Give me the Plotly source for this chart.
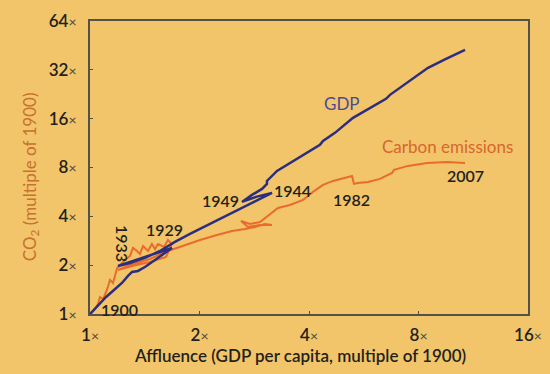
import plotly.graph_objects as go

# ---- data (multiples of 1900 values) ----
gdp_affluence = [1.000, 1.052, 1.107, 1.164, 1.224, 1.272, 1.305, 1.355, 1.416, 1.509, 1.608, 1.680,
                 1.557, 1.416, 1.288, 1.194, 1.288, 1.416, 1.557, 1.712, 1.883, 2.138, 2.427, 2.753,
                 3.165, 2.860, 2.617, 2.788, 2.971, 3.065, 3.065, 3.267, 3.779, 4.287, 4.371, 4.715,
                 5.285, 5.885, 6.512, 6.680, 7.485, 8.497, 9.521, 10.74]
gdp_multiple = [1.000, 1.136, 1.273, 1.406, 1.553, 1.716, 1.816, 1.842, 1.949, 2.154, 2.378, 2.553,
                2.412, 2.247, 2.093, 1.978, 2.063, 2.216, 2.447, 2.781, 3.115, 3.590, 4.139, 4.770,
                5.579, 5.271, 4.907, 5.422, 5.902, 6.338, 6.613, 7.622, 9.300, 11.03, 11.67, 13.08,
                16.18, 18.65, 21.20, 22.44, 26.98, 32.93, 37.41, 42.51]

carbon_affluence = [1.000, 1.032, 1.052, 1.065, 1.086, 1.113, 1.135, 1.157, 1.187, 1.232, 1.288, 1.313,
                    1.346, 1.372, 1.399, 1.444, 1.480, 1.509, 1.538, 1.598, 1.638, 1.680, 1.618, 1.462,
                    1.305, 1.194, 1.288, 1.462, 1.608, 1.734, 1.848, 2.007, 2.234, 2.457, 2.667, 2.842,
                    3.027, 3.165, 2.933, 2.719, 2.601, 2.753, 2.933, 3.085, 3.287, 3.546, 3.851, 4.102,
                    4.371, 4.656, 5.087, 5.252, 5.318, 5.453, 5.811, 6.268, 6.765, 6.849, 7.485, 8.445,
                    9.581, 10.74]
carbon_multiple = [1.000, 1.073, 1.153, 1.273, 1.237, 1.406, 1.621, 1.553, 1.922, 2.093, 2.279, 2.553,
                   2.447, 2.345, 2.627, 2.447, 2.703, 2.517, 2.703, 2.590, 2.860, 2.703, 2.247, 2.093,
                   1.978, 1.869, 2.006, 2.184, 2.412, 2.553, 2.703, 2.860, 3.071, 3.251, 3.345, 3.441,
                   3.590, 3.540, 3.540, 3.441, 3.747, 3.590, 3.693, 4.022, 4.506, 4.703, 5.049, 5.657,
                   6.246, 6.613, 6.999, 7.100, 6.338, 6.427, 6.520, 6.804, 7.408, 7.732, 8.184, 8.539,
                   8.664, 8.539]

x_ticks = [1, 2, 4, 8, 16]
y_ticks = [1, 2, 4, 8, 16, 32, 64]

BG = "#F2C56A"
BLUE = "#2C2E7E"
ORANGE = "#EA6B2B"
DARK = "#231F1A"

def tick_text(v):
    return f"{v}<span style='font-size:14px;font-weight:400;color:#4a4540'>\u00d7</span>"

fig = go.Figure()
fig.add_trace(go.Scatter(x=carbon_affluence, y=carbon_multiple, mode="lines",
                         line=dict(color=ORANGE, width=2), hoverinfo="skip", showlegend=False))
fig.add_trace(go.Scatter(x=gdp_affluence, y=gdp_multiple, mode="lines",
                         line=dict(color=BLUE, width=2.5), hoverinfo="skip", showlegend=False))

font_family = "Lato, 'Open Sans', sans-serif"

axis_common = dict(type="log", showgrid=False, zeroline=False, showline=True,
                   linecolor="#55504a", linewidth=2, mirror=True, ticks="inside",
                   ticklen=3, tickcolor="#55504a", automargin=False,
                   tickfont=dict(family=font_family, size=17, color=DARK, weight=600))
fig.update_xaxes(range=[0, 1.20412], tickvals=x_ticks,
                 ticktext=[tick_text(v) for v in x_ticks], ticklabelstandoff=5, **axis_common)
fig.update_yaxes(range=[0, 1.80618], tickvals=y_ticks,
                 ticktext=[tick_text(v) for v in y_ticks], ticklabelstandoff=8, **axis_common)

ann = []
def add_label(text, x, y, color=DARK, size=16, angle=0, weight=600):
    ann.append(dict(text=text, x=x, y=y, xref="paper", yref="paper", showarrow=False,
                    xanchor="center", yanchor="middle", textangle=angle,
                    font=dict(family=font_family, size=size, color=color, weight=weight)))

add_label("GDP", 0.575, 0.720, color="#4A4A98", size=17, weight=400)
add_label("Carbon emissions", 0.817, 0.570, color="#D8662E", size=17, weight=400)
add_label("2007", 0.858, 0.471)
add_label("1982", 0.598, 0.392)
add_label("1944", 0.463, 0.423)
add_label("1949", 0.299, 0.389)
add_label("1929", 0.169, 0.287)
add_label("1933", 0.073, 0.239, angle=90)
add_label("1900", 0.068, 0.017)
add_label("Affluence (GDP per capita, multiple of 1900)", 0.479, -0.140, size=17)
add_label("CO<sub>2</sub> (multiple of 1900)", -0.135, 0.47, color="#C8702F", size=17,
          angle=-90, weight=400)

fig.update_layout(width=550, height=374, margin=dict(l=90, r=22, t=21, b=60),
                  paper_bgcolor=BG, plot_bgcolor=BG, annotations=ann,
                  font=dict(family=font_family), hovermode=False)

fig.write_html("out.html", config={"displayModeBar": False, "staticPlot": True},
               post_script="document.body.style.margin='0';"
                           "document.body.style.background='" + BG + "';")
